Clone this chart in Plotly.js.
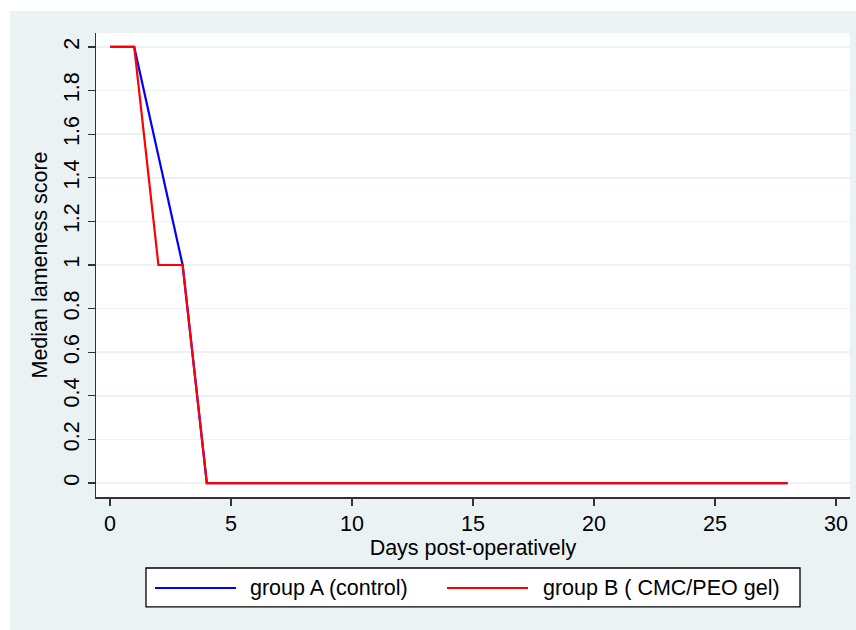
<!DOCTYPE html>
<html>
<head>
<meta charset="utf-8">
<script src="https://cdn.plot.ly/plotly-3.0.1.min.js"></script>
<style>
html, body { margin: 0; padding: 0; background: #ffffff; }
#chart { position: absolute; left: 10px; top: 11px; width: 846px; height: 619px; }
</style>
</head>
<body>
<div id="chart"></div>
<script>
const days = [0, 1, 2, 3, 4, 7, 14, 21, 28];
const groupA = [2, 2, 1.5, 1, 0, 0, 0, 0, 0];
const groupB = [2, 2, 1, 1, 0, 0, 0, 0, 0];
const nameA = "group A (control)";
const nameB = "group B ( CMC/PEO gel)";
const xTicks = [0, 5, 10, 15, 20, 25, 30];
const yTicks = [0, 0.2, 0.4, 0.6, 0.8, 1, 1.2, 1.4, 1.6, 1.8, 2];
const yTickText = ["0", "0.2", "0.4", "0.6", "0.8", "1", "1.2", "1.4", "1.6", "1.8", "2"];

const FONT = "Liberation Sans, Arial, sans-serif";
const FS = 21.5;
const panel = "#EAF2F3";

const traces = [
  { x: days, y: groupA, name: nameA, mode: "lines", line: { color: "#0000FF", width: 2.2 }, showlegend: false },
  { x: days, y: groupB, name: nameB, mode: "lines", line: { color: "#FF0000", width: 2.2 }, showlegend: false }
];

const layout = {
  width: 846, height: 619,
  margin: { l: 86, r: 6, t: 22, b: 133 },
  paper_bgcolor: panel,
  plot_bgcolor: "#ffffff",
  font: { family: FONT, size: FS, color: "#000000" },
  showlegend: false,
  xaxis: {
    range: [-0.58, 30.58],
    tickvals: xTicks,
    ticks: "outside", ticklen: 7, tickwidth: 1.3, tickcolor: "#333333",
    showline: true, linecolor: "#333333", linewidth: 1.5,
    showgrid: false, zeroline: false,
    tickfont: { family: FONT, size: FS, color: "#000" },
    title: { text: "Days post-operatively", font: { family: FONT, size: FS, color: "#000" }, standoff: 0 }
  },
  yaxis: {
    range: [-0.064, 2.064],
    tickvals: yTicks, ticktext: yTickText,
    tickangle: -90,
    ticks: "outside", ticklen: 7, tickwidth: 1.3, tickcolor: "#333333",
    showline: true, linecolor: "#333333", linewidth: 1.5,
    showgrid: true, gridcolor: panel, gridwidth: 1.5, zeroline: false,
    tickfont: { family: FONT, size: FS, color: "#000" },
    title: { text: "Median lameness score", font: { family: FONT, size: FS, color: "#000" }, standoff: 6 }
  },
  shapes: [
    { type: "rect", xref: "paper", yref: "paper", x0: 0.0663, x1: 0.9337, y0: -0.237, y1: -0.153,
      fillcolor: "#ffffff", line: { color: "#000000", width: 1.3 } },
    { type: "line", xref: "paper", yref: "paper", x0: 0.0782, x1: 0.1857, y0: -0.196, y1: -0.196,
      line: { color: "#0000FF", width: 2 } },
    { type: "line", xref: "paper", yref: "paper", x0: 0.4655, x1: 0.5729, y0: -0.196, y1: -0.196,
      line: { color: "#FF0000", width: 2 } }
  ],
  annotations: [
    { xref: "paper", yref: "paper", x: 0.2016, y: -0.196, xanchor: "left", yanchor: "middle",
      text: nameA, showarrow: false, font: { family: FONT, size: FS, color: "#000" } },
    { xref: "paper", yref: "paper", x: 0.5902, y: -0.196, xanchor: "left", yanchor: "middle",
      text: nameB, showarrow: false, font: { family: FONT, size: FS, color: "#000" } }
  ]
};

Plotly.newPlot("chart", traces, layout, { displayModeBar: false, staticPlot: true });
</script>
</body>
</html>
